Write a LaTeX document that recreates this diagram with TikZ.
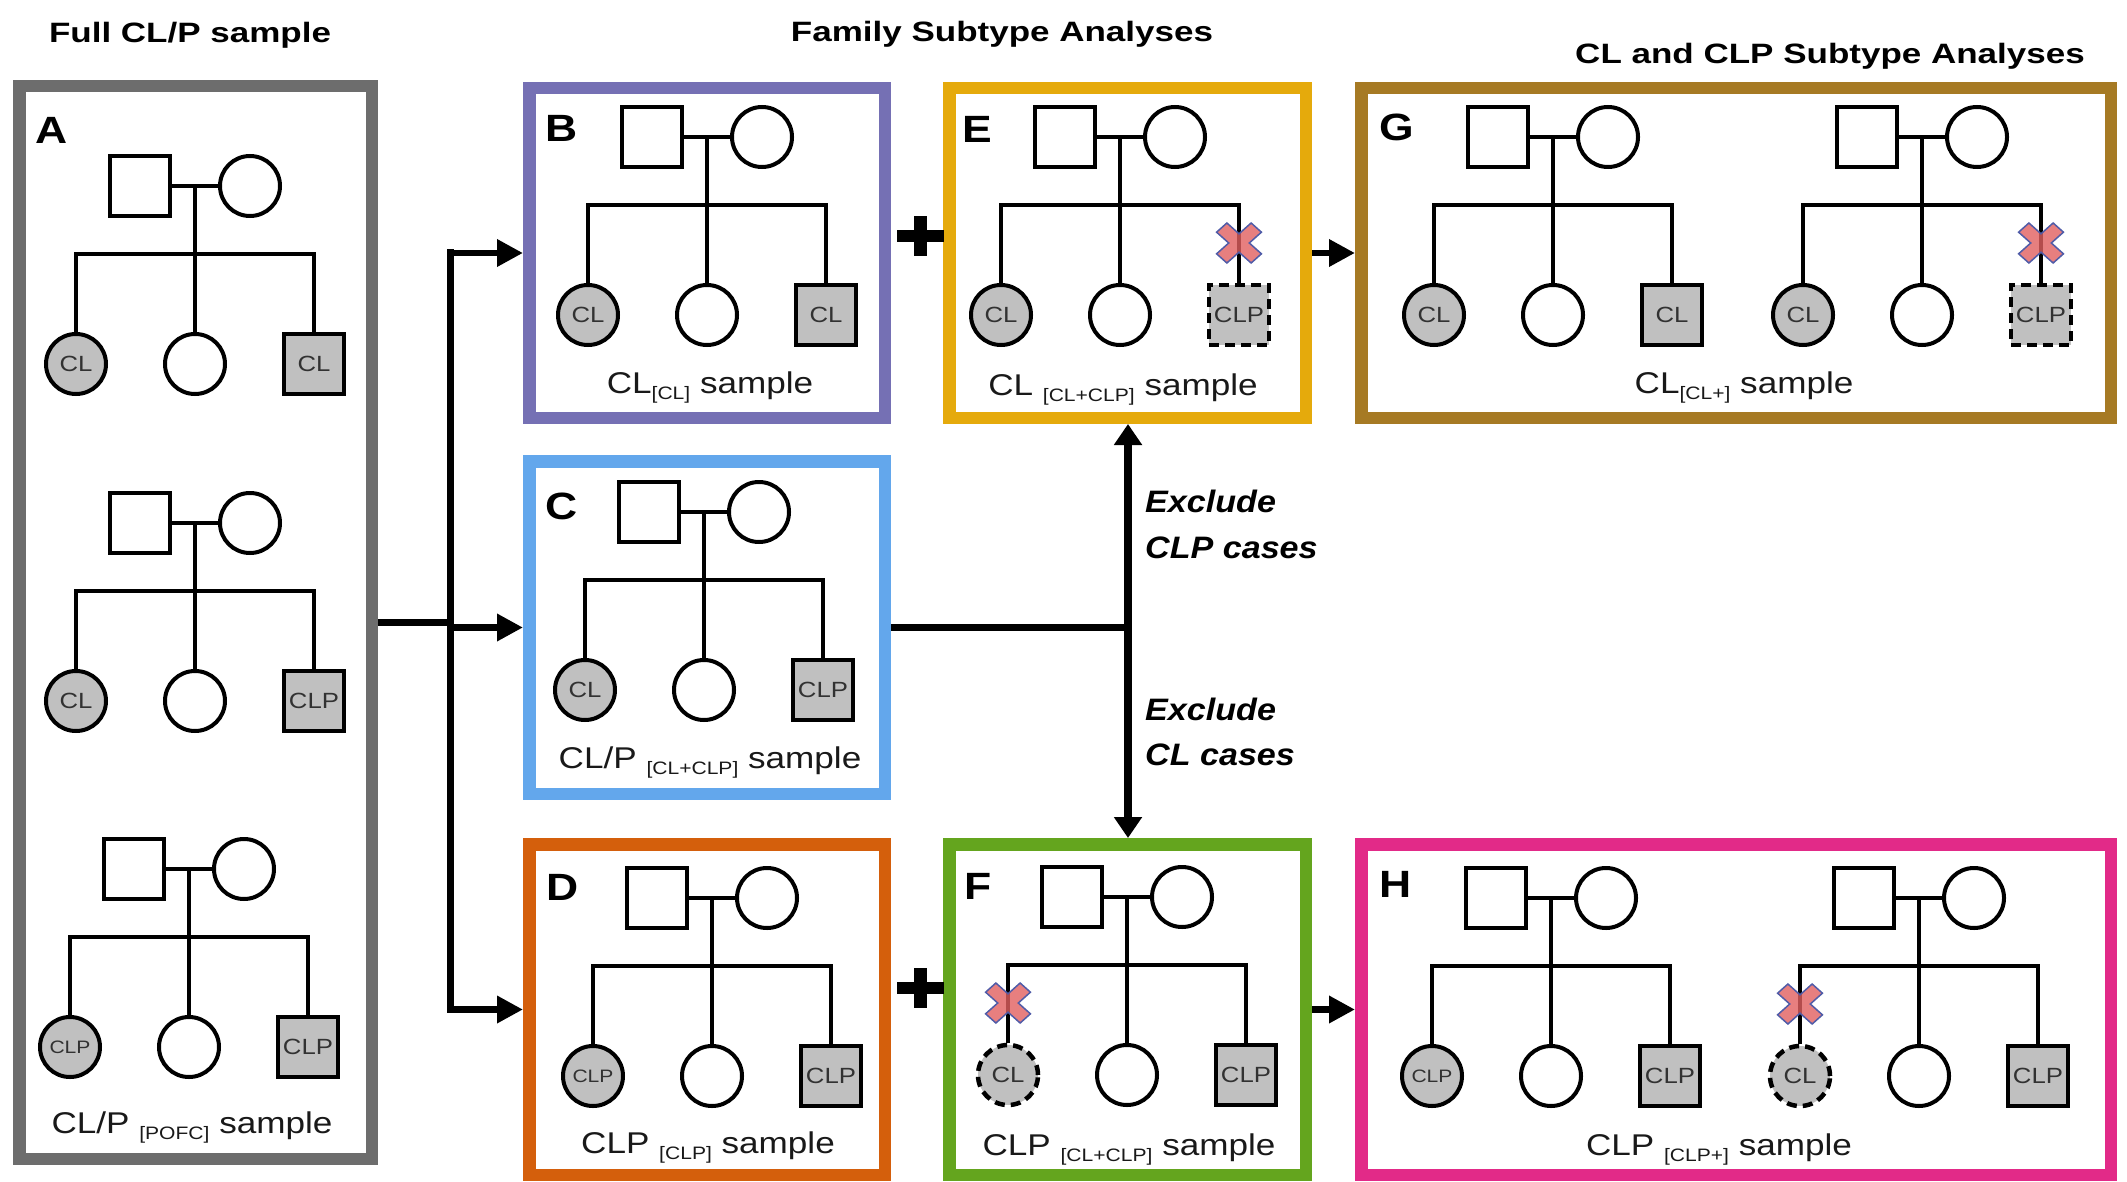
\documentclass[tikz,border=0pt]{standalone}
\usepackage{fontspec}
\setmainfont{Liberation Sans}
\newfontfamily\lab{Liberation Sans}[FakeStretch=1.17]
\newfontfamily\ttl{Liberation Sans}[FakeStretch=1.25]
\newfontfamily\exf{Liberation Sans}[FakeStretch=1.1]
\usetikzlibrary{arrows.meta,calc}
\definecolor{cA}{RGB}{109,109,109}
\definecolor{cB}{RGB}{117,112,180}
\definecolor{cC}{RGB}{99,167,236}
\definecolor{cD}{RGB}{212,95,12}
\definecolor{cE}{RGB}{229,170,12}
\definecolor{cF}{RGB}{100,165,30}
\definecolor{cG}{RGB}{166,122,36}
\definecolor{cH}{RGB}{226,42,136}
\definecolor{aff}{RGB}{192,192,192}
\definecolor{xred}{RGB}{226,96,96}
\definecolor{xblue}{RGB}{80,92,168}
\definecolor{symtxt}{RGB}{50,50,50}
\newcommand\lsub[1]{\raisebox{-6pt}{\fontsize{18}{18}\selectfont #1}}
\newcommand\ped[7]{%
  \node[sq] (#1f) at ({#2-55},#3) {};
  \node[ci] (#1m) at ({#2+55},#3) {};
  \coordinate (#1d) at (#2,#3);
  \coordinate (#1s) at (#2,{#3+68});
  \node[#4] (#1c1) at ({#2-119},{#3+178}) {#5};
  \node[ci] (#1c2) at (#2,{#3+178}) {};
  \node[#6] (#1c3) at ({#2+119},{#3+178}) {#7};
  \draw[pl] (#1f) -- (#1m);
  \draw[pl] (#1d) -- (#1s);
  \draw[pl] (#1c1.north) -- (#1c1.north |- #1s) -- (#1c3.north |- #1s) -- (#1c3.north);
  \draw[pl] (#1s) -- (#1c2.north);
}
\newcommand\xm[1]{%
  \begin{scope}[shift={($(#1.north)+(0,-40)$)}, xscale=1.12, rotate=45]
    \filldraw[xst] (6.5,21.8) -- (6.5,6.5) -- (21.8,6.5) -- (21.8,-6.5) -- (6.5,-6.5) -- (6.5,-21.8)
      -- (-6.5,-21.8) -- (-6.5,-6.5) -- (-21.8,-6.5) -- (-21.8,6.5) -- (-6.5,6.5) -- (-6.5,21.8) -- cycle;
  \end{scope}}
\newcommand\CLPs{{\fontsize{22}{22}\selectfont CLP}}
\newcommand\CLPc{{\fontsize{18}{18}\selectfont CLP}}
\begin{document}
\begin{tikzpicture}[x=1pt,y=-1pt,
  box/.style={draw=#1, line width=12.5pt, inner sep=0pt, outer sep=6.25pt, fill=white},
  sym/.style={draw=black, line width=4pt, inner sep=0pt, outer sep=2pt, minimum size=60pt,
    font=\lab\fontsize{22}{22}\selectfont, text=symtxt, fill=white},
  sq/.style={sym, rectangle},
  ci/.style={sym, circle},
  ac/.style={ci, fill=aff},
  asq/.style={sq, fill=aff},
  dc/.style={ac, line width=4.5pt, dash pattern=on 10pt off 6pt},
  dsq/.style={asq, line width=4.5pt, dash pattern=on 10pt off 6pt},
  pl/.style={line width=4pt},
  xst/.style={fill=xred, fill opacity=0.8, draw=xblue, line width=1.5pt, line join=miter},
  letter/.style={font=\lab\bfseries\fontsize{38}{38}\selectfont, inner sep=0pt},
  title/.style={font=\ttl\bfseries\fontsize{28}{28}\selectfont, inner sep=0pt, anchor=base},
  lbl/.style={font=\lab\fontsize{30}{30}\selectfont, inner sep=0pt, anchor=base, text=black!90},
  exc/.style={font=\exf\bfseries\itshape\fontsize{31}{31}\selectfont, inner sep=0pt, anchor=base west},
  arr/.style={line width=6.5pt, -{Triangle[length=26pt,width=26pt]}},
  br/.style={line width=7pt, line cap=rect},
  exa/.style={line width=7.5pt, {Triangle[length=21pt,width=27pt]}-{Triangle[length=21pt,width=27pt]}},
]
\useasboundingbox (0,0) rectangle (2127,1182);
\fill[white] (0,0) rectangle (2127,1182);

% titles
\node[title] (t1) at (190,43) {Full CL/P sample};
\node[title] (t2) at (1002,42) {Family Subtype Analyses};
\node[title] (t3) at (1830,64) {CL and CLP Subtype Analyses};

% boxes
\node[box=cA, minimum width=352.5pt, minimum height=1072.5pt] (boxA) at (195.5,622.5) {};
\node[box=cB, minimum width=355.5pt, minimum height=329.5pt] (boxB) at (707,253) {};
\node[box=cC, minimum width=355.5pt, minimum height=332.5pt] (boxC) at (707,627.5) {};
\node[box=cD, minimum width=355.5pt, minimum height=330.5pt] (boxD) at (707,1009.5) {};
\node[box=cE, minimum width=356.5pt, minimum height=329.5pt] (boxE) at (1127.5,253) {};
\node[box=cF, minimum width=356.5pt, minimum height=330.5pt] (boxF) at (1127.5,1009.5) {};
\node[box=cG, minimum width=749.5pt, minimum height=329.5pt] (boxG) at (1736,253) {};
\node[box=cH, minimum width=749.5pt, minimum height=330.5pt] (boxH) at (1736,1009.5) {};

% letters
\node[letter] (lA) at (52,130) {A};
\node[letter] (lB) at (562,128) {B};
\node[letter] (lC) at (562,506) {C};
\node[letter] (lD) at (563,887) {D};
\node[letter] (lE) at (977,129) {E};
\node[letter] (lF) at (978,886) {F};
\node[letter] (lG) at (1397,127) {G};
\node[letter] (lH) at (1396,884) {H};

% pedigrees
\ped{pA1}{195}{186}{ac}{CL}{asq}{CL}
\ped{pA2}{195}{523}{ac}{CL}{asq}{\CLPs}
\ped{pA3}{189}{869}{ac}{\CLPc}{asq}{\CLPs}
\ped{pB}{707}{137}{ac}{CL}{asq}{CL}
\ped{pC}{704}{512}{ac}{CL}{asq}{\CLPs}
\ped{pD}{712}{898}{ac}{\CLPc}{asq}{\CLPs}
\ped{pE}{1120}{137}{ac}{CL}{dsq}{\CLPs}
\ped{pF}{1127}{897}{dc}{CL}{asq}{\CLPs}
\ped{pG1}{1553}{137}{ac}{CL}{asq}{CL}
\ped{pG2}{1922}{137}{ac}{CL}{dsq}{\CLPs}
\ped{pH1}{1551}{898}{ac}{\CLPc}{asq}{\CLPs}
\ped{pH2}{1919}{898}{dc}{CL}{asq}{\CLPs}
\xm{pEc3}
\xm{pFc1}
\xm{pG2c3}
\xm{pH2c1}

% sample labels
\node[lbl] (sA) at (192,1133) {CL/P \lsub{[POFC]} sample};
\node[lbl] (sB) at (710,393) {CL\lsub{[CL]} sample};
\node[lbl] (sC) at (710,768) {CL/P \lsub{[CL+CLP]} sample};
\node[lbl] (sD) at (708,1153) {CLP \lsub{[CLP]} sample};
\node[lbl] (sE) at (1123,395) {CL \lsub{[CL+CLP]} sample};
\node[lbl] (sF) at (1129,1155) {CLP \lsub{[CL+CLP]} sample};
\node[lbl] (sG) at (1744,393) {CL\lsub{[CL+]} sample};
\node[lbl] (sH) at (1719,1155) {CLP \lsub{[CLP+]} sample};

% plus signs
\fill (920-23.5,236-6) rectangle +(47,12);
\fill (920-6.5,236-20) rectangle +(13,40);
\fill (920-23.5,988-6) rectangle +(47,12);
\fill (920-6.5,988-20) rectangle +(13,40);

% bracket connectors
\coordinate (bk) at (450,621);
\draw[br] (boxB.west -| bk) -- (boxD.west -| bk);
\draw[line width=6.5pt] (boxA.east) -- (boxA.east -| bk);
\draw[arr] (boxB.west -| bk) -- (boxB.west);
\draw[arr] (boxC.west -| bk) -- (boxC.west);
\draw[arr] (boxD.west -| bk) -- (boxD.west);

% exclude connectors
\coordinate (ex) at (1128,627.5);
\draw[exa] (boxE.south -| ex) -- (boxF.north -| ex);
\draw[line width=7.5pt] (boxC.east) -- (ex);
\node[exc] (e1) at (1145,512) {Exclude};
\node[exc] (e2) at (1145,558) {CLP cases};
\node[exc] (e3) at (1145,720) {Exclude};
\node[exc] (e4) at (1145,765) {CL cases};

% to subtype analyses
\draw[arr] (boxE.east) -- (boxG.west);
\draw[arr] (boxF.east) -- (boxH.west);
\end{tikzpicture}
\end{document}
